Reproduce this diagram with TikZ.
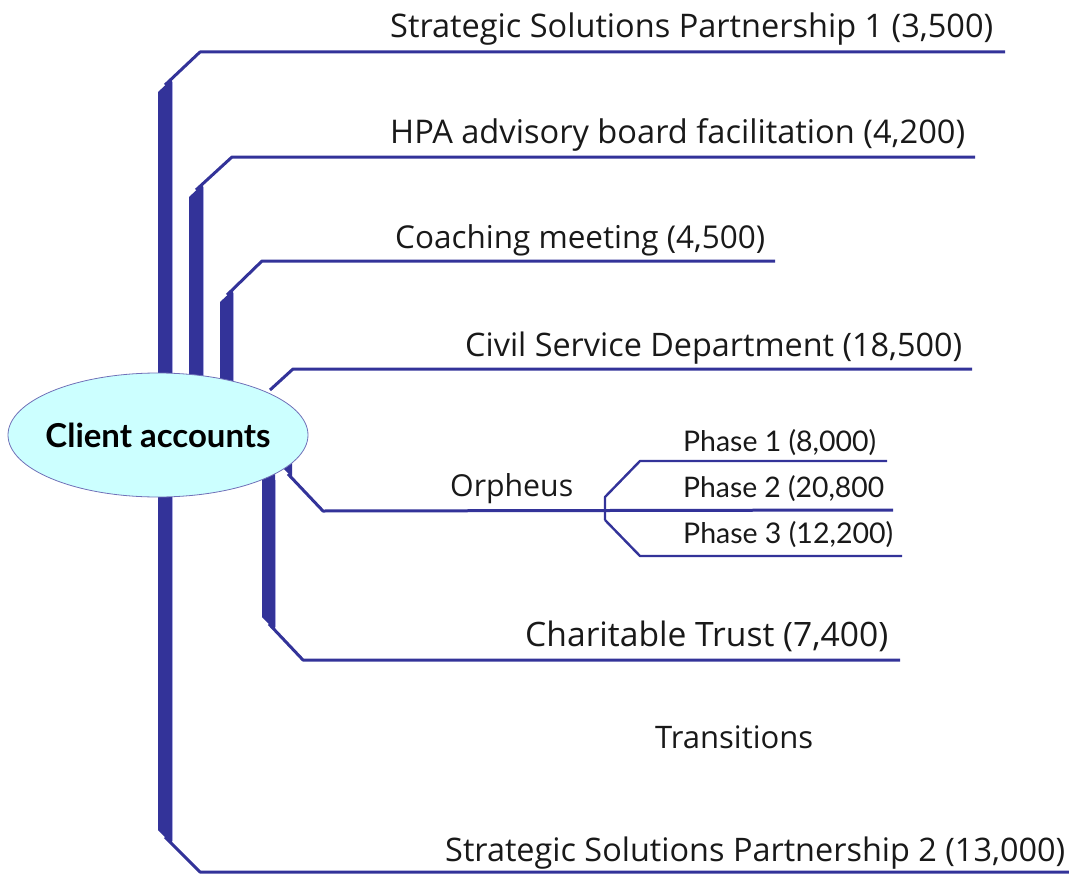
\documentclass[tikz,border=0pt]{standalone}
\usepackage{fontspec}
\usepackage{graphicx}
\setmainfont{Open Sans}
\newfontfamily\gillish{Lato}
\usetikzlibrary{shapes.geometric}
\definecolor{branch}{RGB}{51,51,153}
\definecolor{branchedge}{RGB}{170,170,225}
\definecolor{rootfill}{RGB}{204,255,255}
\newcommand\fitto[2]{\resizebox{#1pt}{!}{#2}}
\tikzset{
  lbl/.style={anchor=base west, inner sep=0pt, font=\fontsize{30}{30}\selectfont, text=black!90},
  sublbl/.style={anchor=base west, inner sep=0pt, font=\gillish\fontsize{24}{24}\selectfont, text=black!90},
  stem/.style={fill=branch, draw=none},
  stemedge/.style={draw=branchedge, line width=0.7pt},
  twig/.style={draw=branch, line width=3pt, line join=round},
  thintwig/.style={draw=branch, line width=2.4pt, line join=round},
}
\begin{document}
\begin{tikzpicture}[x=1pt, y=-1pt]
\useasboundingbox (0,0) rectangle (1069,875);

% ---- thick stems rising out of / dropping from the root ----
\path[stem] (158,440) -- (158,92) -- (172,79) -- (172,440) -- cycle;
\draw[stemedge] (172.3,82) -- (172.3,380);
\path[stem] (189,440) -- (189,197) -- (203,184) -- (203,440) -- cycle;
\draw[stemedge] (203.3,187) -- (203.3,380);
\path[stem] (220,440) -- (220,302) -- (233,290) -- (233,440) -- cycle;
\draw[stemedge] (233.3,293) -- (233.3,384);
\path[stem] (283,440) -- (283,468) -- (292,477) -- (292,440) -- cycle;
\path[stem] (262,430) -- (262,617) -- (275,630) -- (275,430) -- cycle;
\draw[stemedge] (275.3,480) -- (275.3,627);
\path[stem] (158,430) -- (158,830) -- (172,844) -- (172,430) -- cycle;
\draw[stemedge] (172.3,497) -- (172.3,841);

% ---- root ----
\node[ellipse, draw=branch!70, line width=0.8pt, fill=rootfill,
      minimum width=300pt, minimum height=124pt, inner sep=0pt] (root) at (158,435) {};
\node[inner sep=0pt, font=\gillish\bfseries\fontsize{26}{26}\selectfont] (rootlbl) at (158,435)
  {\fitto{225}{Client accounts}};

% ---- labels ----
\node[lbl] (ssp1) at (390,38) {\fitto{603}{Strategic Solutions Partnership 1 (3,500)}};
\node[lbl] (hpa) at (390,143) {\fitto{575}{HPA advisory board facilitation (4,200)}};
\node[lbl] (coach) at (395,248) {\fitto{370}{Coaching meeting (4,500)}};
\node[lbl] (civil) at (465,356) {\fitto{497}{Civil Service Department (18,500)}};
\node[lbl] (orph) at (450,496) {\fitto{123}{Orpheus}};
\node[lbl] (trust) at (525,646) {\fitto{363}{Charitable Trust (7,400)}};
\node[lbl] (trans) at (655,748) {\fitto{158}{Transitions}};
\node[lbl] (ssp2) at (445,861) {\fitto{620}{Strategic Solutions Partnership 2 (13,000)}};
\node[sublbl] (ph1) at (683,451) {\fitto{193}{Phase 1 (8,000)}};
\node[sublbl] (ph2) at (683,497) {\fitto{201}{Phase 2 (20,800}};
\node[sublbl] (ph3) at (683,543) {\fitto{210}{Phase 3 (12,200)}};

% ---- line ends ----
\coordinate (e1) at (1005,52);
\coordinate (e2) at (975,157);
\coordinate (e3) at (775,261);
\coordinate (e4) at (972,369);
\coordinate (e5) at (893,510);
\coordinate (e6) at (900,660);
\coordinate (e7) at (1069,872);
\coordinate (p1) at (887,461);
\coordinate (p3) at (902,556);

% ---- diagonal + horizontal underlines ----
\draw[twig] (165,85) -- (200,52) -- (e1);
\draw[twig] (196,190) -- (232,157) -- (e2);
\draw[twig] (227,295) -- (262,261) -- (e3);
\draw[twig] (270,390) -- (293,369) -- (e4);
\draw[twig] (288,474) -- (323,511) -- (e5);
\draw[twig] (269,624) -- (303,660) -- (e6);
\draw[twig] (165,837) -- (200,872) -- (e7);

% ---- phase sub-branches of Orpheus ----
\draw[thintwig] (605,520) -- (605,497) -- (640,461) -- (p1);
\draw[thintwig] (605,520) -- (640,556) -- (p3);
\end{tikzpicture}
\end{document}
